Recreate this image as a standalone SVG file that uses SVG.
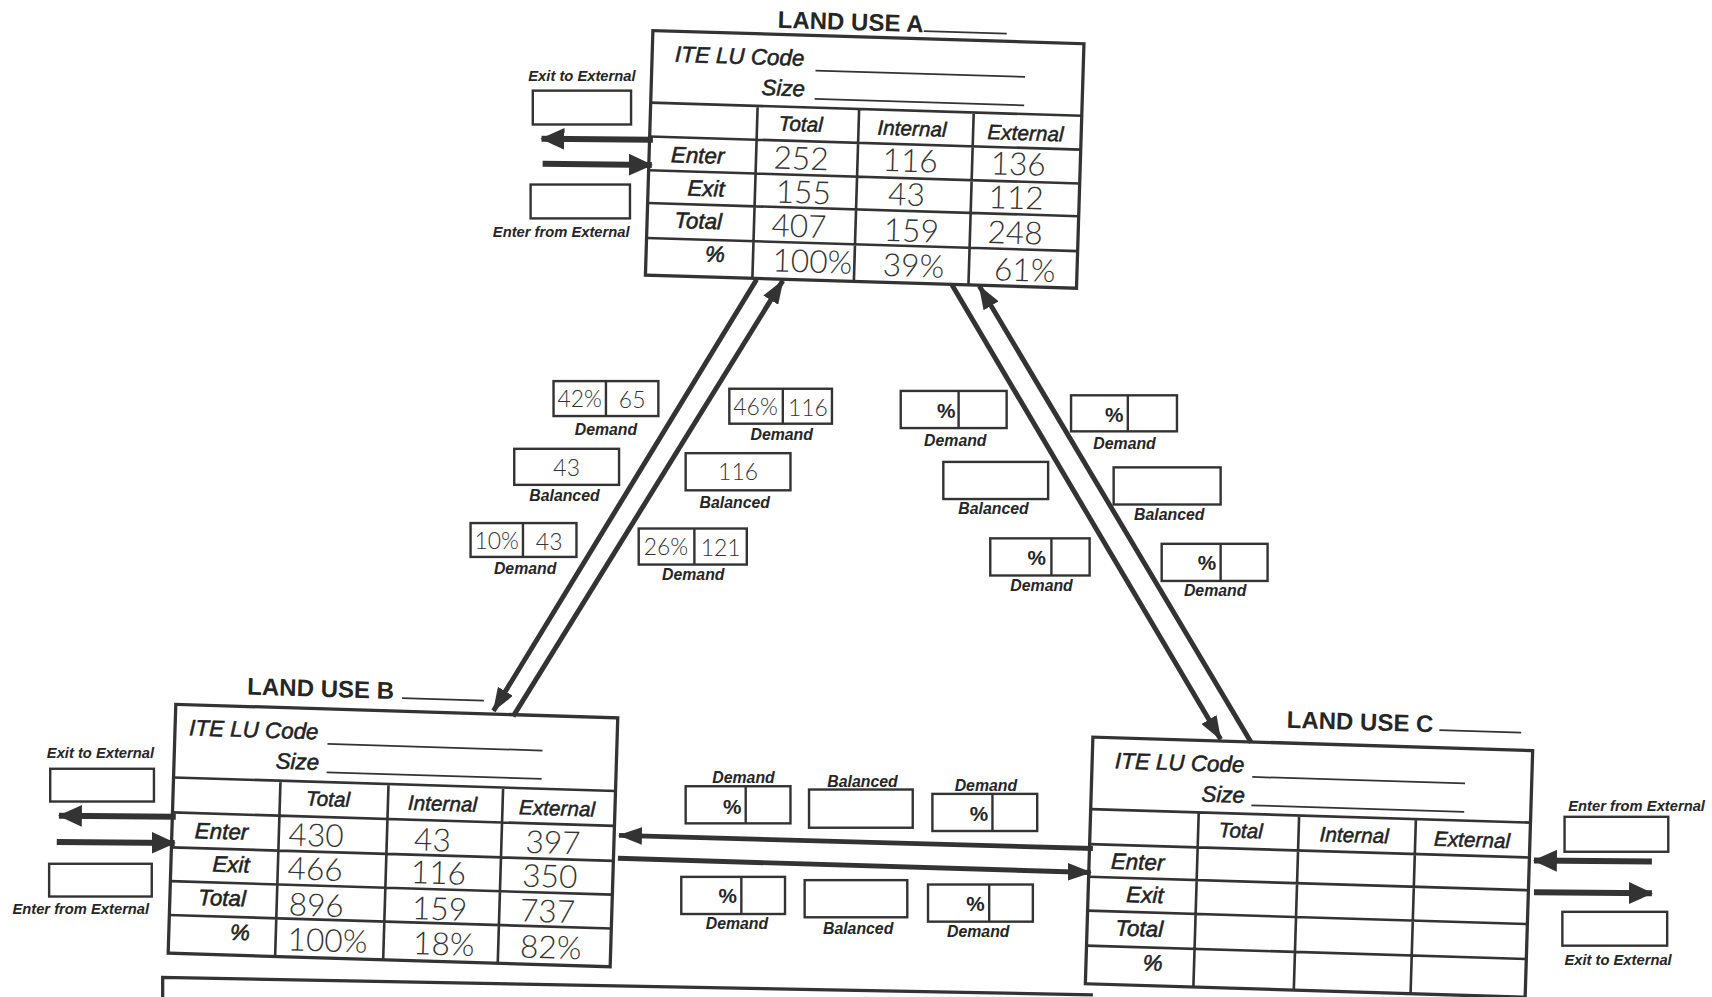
<svg xmlns="http://www.w3.org/2000/svg" width="1712" height="997" viewBox="0 0 1712 997">
<defs>
<style>
.frame{fill:none;stroke:#333;stroke-width:3}
.grid{fill:none;stroke:#333;stroke-width:2.4}
.uline{stroke:#333;stroke-width:1.6}
.ttl{font-family:"Liberation Sans",Arial,sans-serif;font-weight:bold;font-size:22px;fill:#262626}
.itl{font-family:"Liberation Sans",Arial,sans-serif;font-style:italic;font-size:20.5px;fill:#222;stroke:#222;stroke-width:0.5}
.hdr{font-family:"Liberation Sans",Arial,sans-serif;font-style:italic;font-size:19px;fill:#222;stroke:#222;stroke-width:0.45;text-anchor:middle}
.lbl{font-family:"Liberation Sans",Arial,sans-serif;font-style:italic;font-weight:bold;font-size:14.5px;fill:#262626;text-anchor:middle}
.sm{font-family:"Liberation Sans",Arial,sans-serif;font-style:italic;font-weight:bold;font-size:13.5px;fill:#262626;text-anchor:middle}
.hw{font-family:Lato,"Open Sans","Liberation Sans",sans-serif;font-weight:300;font-size:29px;fill:#333}
.hws{font-family:Lato,"Open Sans","Liberation Sans",sans-serif;font-weight:300;font-size:21px;fill:#333;text-anchor:middle}
.pct{font-family:"Liberation Sans",Arial,sans-serif;font-weight:bold;font-size:19px;fill:#262626;text-anchor:end}
.box{fill:none;stroke:#333;stroke-width:2.2}
.conn{fill:none;stroke:#333;stroke-width:4.5}
.ext{fill:none;stroke:#333;stroke-width:5.5}
</style>
<marker id="ah" viewBox="0 0 22 16" refX="21" refY="8" markerWidth="22" markerHeight="16" markerUnits="userSpaceOnUse" orient="auto"><path d="M0,0 L22,8 L0,16 z" fill="#333"/></marker>
<marker id="ahx" viewBox="0 0 22 20" refX="21" refY="10" markerWidth="22" markerHeight="20" markerUnits="userSpaceOnUse" orient="auto"><path d="M0,0 L22,10 L0,20 z" fill="#333"/></marker>
</defs>
<rect width="1712" height="997" fill="#ffffff"/>
<g transform="scale(1.0918,1.092)">

<!-- LAND USE A -->
<g id="land-use-a" transform="translate(598,28) rotate(1.75)">
<text class="ttl" x="114" y="-6">LAND USE A</text>
<line class="uline" x1="248" y1="-7" x2="324" y2="-7"/>
<rect class="frame" x="0" y="0" width="395" height="224"/>
<text class="itl" x="21" y="28">ITE LU Code</text>
<line class="uline" x1="150" y1="32" x2="342" y2="32"/>
<text class="itl" x="101" y="56">Size</text>
<line class="uline" x1="150" y1="58" x2="342" y2="58"/>
<path class="grid" d="M0,66H395M0,97H395M0,128H395M0,158H395M0,190H395M98,66V224M191,66V224M296,66V224"/>
<text class="hdr" x="138" y="88">Total</text>
<text class="hdr" x="240" y="89">Internal</text>
<text class="hdr" x="344" y="90">External</text>
<text class="itl" x="20" y="120">Enter</text>
<text class="itl" x="36" y="150">Exit</text>
<text class="itl" x="25" y="180">Total</text>
<text class="itl" x="54" y="210">%</text>
<text class="hw" x="114" y="123">252</text>
<text class="hw" x="214" y="122">116</text>
<text class="hw" x="313" y="122">136</text>
<text class="hw" x="117" y="154">155</text>
<text class="hw" x="220" y="153">43</text>
<text class="hw" x="312" y="153">112</text>
<text class="hw" x="114" y="185">407</text>
<text class="hw" x="217" y="186">159</text>
<text class="hw" x="312" y="185">248</text>
<text class="hw" x="116" y="217">100%</text>
<text class="hw" x="217" y="218">39%</text>
<text class="hw" x="319" y="219">61%</text>
</g>

<!-- LAND USE B -->
<g id="land-use-b" transform="translate(161,645) rotate(1.75)">
<text class="ttl" x="65" y="-11">LAND USE B</text>
<line class="uline" x1="207" y1="-12" x2="282" y2="-12"/>
<rect class="frame" x="0" y="0" width="405" height="228"/>
<text class="itl" x="13" y="28">ITE LU Code</text>
<line class="uline" x1="140" y1="32" x2="337" y2="32"/>
<text class="itl" x="93" y="56">Size</text>
<line class="uline" x1="140" y1="58" x2="337" y2="58"/>
<path class="grid" d="M0,67H405M0,99H405M0,131H405M0,162H405M0,193H405M98,67V228M197,67V228M302,67V228"/>
<text class="hdr" x="142" y="89">Total</text>
<text class="hdr" x="247" y="90">Internal</text>
<text class="hdr" x="352" y="91">External</text>
<text class="itl" x="21" y="122">Enter</text>
<text class="itl" x="38" y="152">Exit</text>
<text class="itl" x="26" y="183">Total</text>
<text class="itl" x="56" y="214">%</text>
<text class="hw" x="107" y="126">430</text>
<text class="hw" x="222" y="127">43</text>
<text class="hw" x="324" y="126">397</text>
<text class="hw" x="107" y="157">466</text>
<text class="hw" x="220" y="157">116</text>
<text class="hw" x="322" y="157">350</text>
<text class="hw" x="109" y="190">896</text>
<text class="hw" x="222" y="190">159</text>
<text class="hw" x="321" y="189">737</text>
<text class="hw" x="109" y="222">100%</text>
<text class="hw" x="224" y="222">18%</text>
<text class="hw" x="322" y="222">82%</text>
</g>

<!-- LAND USE C -->
<g id="land-use-c" transform="translate(1001,675) rotate(1.75)">
<text class="ttl" x="177" y="-14">LAND USE C</text>
<line class="uline" x1="317" y1="-16" x2="392" y2="-16"/>
<rect class="frame" x="0" y="0" width="403" height="226"/>
<text class="itl" x="21" y="28">ITE LU Code</text>
<line class="uline" x1="147" y1="32" x2="342" y2="32"/>
<text class="itl" x="101" y="56">Size</text>
<line class="uline" x1="147" y1="58" x2="342" y2="58"/>
<path class="grid" d="M0,66H403M0,98H403M0,128H403M0,159H403M0,191H403M99,66V226M191,66V226M298,66V226"/>
<text class="hdr" x="138" y="88">Total</text>
<text class="hdr" x="242" y="89">Internal</text>
<text class="hdr" x="350" y="90">External</text>
<text class="itl" x="20" y="120">Enter</text>
<text class="itl" x="35" y="150">Exit</text>
<text class="itl" x="26" y="181">Total</text>
<text class="itl" x="52" y="212">%</text>
</g>

<!-- external boxes -->
<g id="ext-a">
<text class="sm" x="533" y="74">Exit to External</text>
<rect class="box" x="488" y="83" width="90" height="31"/>
<rect class="box" x="486" y="169" width="91" height="31"/>
<text class="sm" x="514" y="217">Enter from External</text>
</g>
<g id="ext-b">
<text class="sm" x="92" y="694">Exit to External</text>
<rect class="box" x="46" y="704" width="95" height="30"/>
<rect class="box" x="45" y="791" width="94" height="30"/>
<text class="sm" x="74" y="837">Enter from External</text>
</g>
<g id="ext-c">
<text class="sm" x="1499" y="743">Enter from External</text>
<rect class="box" x="1433" y="748" width="95" height="32"/>
<rect class="box" x="1431" y="835" width="96" height="31"/>
<text class="sm" x="1482" y="884">Exit to External</text>
</g>

<!-- flow boxes A-B -->
<g id="flow-ab">
<rect class="box" x="507" y="349" width="96" height="32"/><line class="box" x1="555" y1="349" x2="555" y2="381"/>
<text class="hws" x="531" y="373">42%</text><text class="hws" x="579" y="374">65</text>
<text class="lbl" x="555" y="398">Demand</text>
<rect class="box" x="668" y="356" width="94" height="32"/><line class="box" x1="717" y1="356" x2="717" y2="388"/>
<text class="hws" x="692" y="380">46%</text><text class="hws" x="740" y="381">116</text>
<text class="lbl" x="716" y="403">Demand</text>
<rect class="box" x="471" y="411" width="96" height="33"/>
<text class="hws" x="519" y="436">43</text>
<text class="lbl" x="517" y="459">Balanced</text>
<rect class="box" x="628" y="415" width="96" height="34"/>
<text class="hws" x="676" y="440">116</text>
<text class="lbl" x="673" y="465">Balanced</text>
<rect class="box" x="431" y="479" width="97" height="31"/><line class="box" x1="479" y1="479" x2="479" y2="510"/>
<text class="hws" x="455" y="503">10%</text><text class="hws" x="503" y="504">43</text>
<text class="lbl" x="481" y="526">Demand</text>
<rect class="box" x="585" y="484" width="99" height="33"/><line class="box" x1="636" y1="484" x2="636" y2="517"/>
<text class="hws" x="610" y="508">26%</text><text class="hws" x="660" y="509">121</text>
<text class="lbl" x="635" y="531">Demand</text>
</g>

<!-- flow boxes A-C -->
<g id="flow-ac">
<rect class="box" x="825" y="358" width="97" height="34"/><line class="box" x1="878" y1="358" x2="878" y2="392"/>
<text class="pct" x="875" y="383">%</text>
<text class="lbl" x="875" y="408">Demand</text>
<rect class="box" x="981" y="362" width="97" height="33"/><line class="box" x1="1033" y1="362" x2="1033" y2="395"/>
<text class="pct" x="1029" y="386">%</text>
<text class="lbl" x="1030" y="411">Demand</text>
<rect class="box" x="864" y="423" width="96" height="34"/>
<text class="lbl" x="910" y="471">Balanced</text>
<rect class="box" x="1020" y="428" width="98" height="34"/>
<text class="lbl" x="1071" y="476">Balanced</text>
<rect class="box" x="907" y="493" width="91" height="34"/><line class="box" x1="963" y1="493" x2="963" y2="527"/>
<text class="pct" x="958" y="517">%</text>
<text class="lbl" x="954" y="541">Demand</text>
<rect class="box" x="1064" y="498" width="97" height="34"/><line class="box" x1="1118" y1="498" x2="1118" y2="532"/>
<text class="pct" x="1114" y="522">%</text>
<text class="lbl" x="1113" y="546">Demand</text>
</g>

<!-- flow boxes B-C -->
<g id="flow-bc">
<text class="lbl" x="681" y="717">Demand</text>
<rect class="box" x="628" y="720" width="96" height="34"/><line class="box" x1="683" y1="720" x2="683" y2="754"/>
<text class="pct" x="679" y="745">%</text>
<text class="lbl" x="790" y="721">Balanced</text>
<rect class="box" x="741" y="723" width="95" height="35"/>
<text class="lbl" x="903" y="724">Demand</text>
<rect class="box" x="854" y="727" width="96" height="34"/><line class="box" x1="909" y1="727" x2="909" y2="761"/>
<text class="pct" x="905" y="752">%</text>
<rect class="box" x="624" y="803" width="95" height="34"/><line class="box" x1="679" y1="803" x2="679" y2="837"/>
<text class="pct" x="675" y="827">%</text>
<text class="lbl" x="675" y="851">Demand</text>
<rect class="box" x="737" y="806" width="94" height="34"/>
<text class="lbl" x="786" y="855">Balanced</text>
<rect class="box" x="850" y="810" width="96" height="34"/><line class="box" x1="906" y1="810" x2="906" y2="844"/>
<text class="pct" x="902" y="834">%</text>
<text class="lbl" x="896" y="858">Demand</text>
</g>

<!-- bottom notes box (partial) -->
<path id="notes-box" class="frame" d="M149,920 L149,895 L1001,911"/>

<!-- connectors -->
<g id="connectors">
<line class="conn" x1="693" y1="256" x2="452" y2="651" marker-end="url(#ah)"/>
<line class="conn" x1="470" y1="656" x2="717" y2="257" marker-end="url(#ah)"/>
<line class="conn" x1="872" y1="261" x2="1118" y2="677" marker-end="url(#ah)"/>
<line class="conn" x1="1146" y1="680" x2="897" y2="262" marker-end="url(#ah)"/>
<line class="conn" x1="1001" y1="777" x2="567" y2="765" marker-end="url(#ah)"/>
<line class="conn" x1="566" y1="786" x2="999" y2="799" marker-end="url(#ah)"/>
<line class="ext" x1="598" y1="128" x2="496" y2="127" marker-end="url(#ahx)"/>
<line class="ext" x1="497" y1="150" x2="597" y2="151" marker-end="url(#ahx)"/>
<line class="ext" x1="161" y1="748" x2="54" y2="747" marker-end="url(#ahx)"/>
<line class="ext" x1="52" y1="771" x2="160" y2="772" marker-end="url(#ahx)"/>
<line class="ext" x1="1513" y1="789" x2="1405" y2="788" marker-end="url(#ahx)"/>
<line class="ext" x1="1405" y1="817" x2="1513" y2="818" marker-end="url(#ahx)"/>
</g>
</g>
</svg>
